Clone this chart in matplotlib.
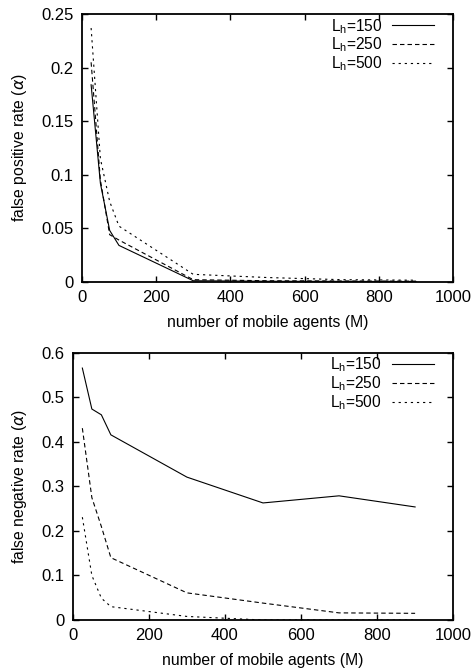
import matplotlib
matplotlib.use('Agg')
import matplotlib.pyplot as plt
from matplotlib.ticker import FuncFormatter, MultipleLocator

plt.rcParams['font.family'] = ['Liberation Sans', 'DejaVu Sans']
plt.rcParams['mathtext.fontset'] = 'custom'
plt.rcParams['mathtext.rm'] = 'Liberation Sans'
plt.rcParams['lines.scale_dashes'] = False

# data
agents = [25, 50, 75, 100, 300, 500, 700, 900]
labels = [r'L$_\mathrm{h}$=150', r'L$_\mathrm{h}$=250', r'L$_\mathrm{h}$=500']

fp_150 = [0.184, 0.092, 0.048, 0.034, 0.001, 0.0005, 0.0004, 0.0003]
fp_250 = [0.205, 0.095, 0.044, 0.039, 0.002, 0.001, 0.0008, 0.0006]
fp_500 = [0.237, 0.115, 0.075, 0.052, 0.007, 0.004, 0.002, 0.0015]

fn_150 = [0.566, 0.474, 0.461, 0.416, 0.321, 0.263, 0.279, 0.254]
fn_250 = [0.431, 0.275, 0.21, 0.14, 0.061, 0.038, 0.016, 0.015]
fn_500 = [0.231, 0.10, 0.049, 0.03, 0.008, 0.0, 0.0, 0.0]

styles = [dict(linestyle='-'),
          dict(linestyle=(0, (3.2, 2.2))),
          dict(linestyle=(0, (1.6, 2.8)))]

fig = plt.figure(figsize=(4.73, 6.71), dpi=100)
ax1 = fig.add_axes([0.173, 0.580, 0.785, 0.399])
ax2 = fig.add_axes([0.154, 0.076, 0.804, 0.398])


def setup(ax, series, ylim, ystep, ylabel):
    for vals, st, lab in zip(series, styles, labels):
        ax.plot(agents, vals, color='black', lw=0.8, label=lab, **st)
    ax.set_xlim(0, 1000)
    ax.set_ylim(0, ylim)
    ax.xaxis.set_major_locator(MultipleLocator(200))
    ax.yaxis.set_major_locator(MultipleLocator(ystep))
    ax.yaxis.set_major_formatter(FuncFormatter(lambda v, p: '%g' % round(v, 3)))
    ax.tick_params(direction='in', top=True, right=True, length=4, width=1,
                   labelsize=12, pad=6)
    for s in ax.spines.values():
        s.set_linewidth(1.3)
    ax.set_xlabel('number of mobile agents (M)', fontsize=11.3, labelpad=7)
    ax.set_ylabel(ylabel, fontsize=11.3, labelpad=9)
    leg = ax.legend(loc='upper right', frameon=False, markerfirst=False,
                    fontsize=11.2, handlelength=2.7, handletextpad=0.65,
                    labelspacing=0, borderaxespad=0,
                    bbox_to_anchor=(0.966, 1.013))
    for t in leg.get_texts():
        t.set_ha('right')


setup(ax1, [fp_150, fp_250, fp_500], 0.25, 0.05, r'false positive rate ($\alpha$)')
setup(ax2, [fn_150, fn_250, fn_500], 0.6, 0.1, r'false negative rate ($\alpha$)')

fig.savefig('out.png', dpi=100)
